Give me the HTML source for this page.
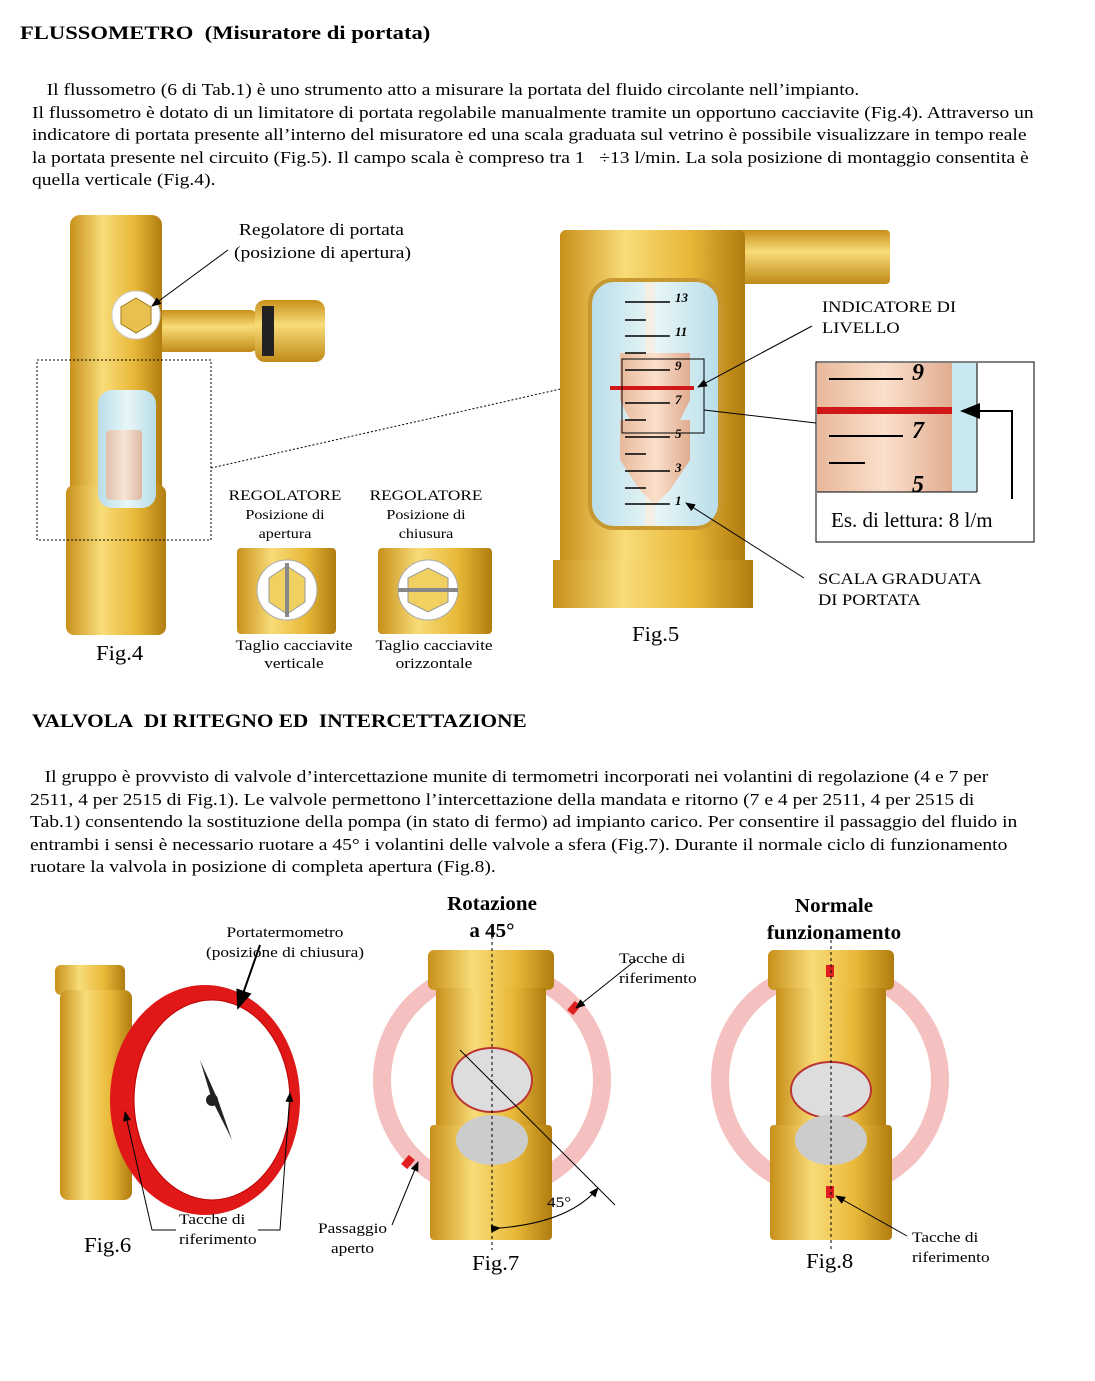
<!DOCTYPE html>
<html><head><meta charset="utf-8"><style>
body{margin:0;width:1095px;height:1381px;background:#fff;position:relative;overflow:hidden;font-family:"Liberation Serif",serif;color:#000}
.t{position:absolute;white-space:nowrap;transform:scaleX(1.15);transform-origin:0 0}
.p{font-size:17px;line-height:22.5px}
.s{font-size:15px}
.c{text-align:center;transform-origin:50% 0}
</style></head><body>
<svg width="1095" height="1381" style="position:absolute;left:0;top:0">
<defs>
<linearGradient id="br" x1="0" x2="1"><stop offset="0" stop-color="#c8901a"/><stop offset=".35" stop-color="#f8dc78"/><stop offset=".7" stop-color="#e8b838"/><stop offset="1" stop-color="#b07c10"/></linearGradient>
<linearGradient id="brv" y1="0" y2="1" x1="0" x2="0"><stop offset="0" stop-color="#c8901a"/><stop offset=".4" stop-color="#f8dc78"/><stop offset="1" stop-color="#c08a18"/></linearGradient>
<linearGradient id="gl" x1="0" x2="1"><stop offset="0" stop-color="#b8dde8"/><stop offset=".5" stop-color="#e8f6f8"/><stop offset="1" stop-color="#b8dde8"/></linearGradient>
<linearGradient id="fl" x1="0" x2="1"><stop offset="0" stop-color="#e8b89a"/><stop offset=".5" stop-color="#fbe0cc"/><stop offset="1" stop-color="#e0ac90"/></linearGradient>
<marker id="ar" markerWidth="10" markerHeight="8" refX="9" refY="4" orient="auto"><path d="M0,0L10,4L0,8z"/></marker>
</defs>
<!-- Fig4 -->
<rect x="148" y="310" width="110" height="42" rx="8" fill="url(#brv)"/>
<rect x="255" y="300" width="70" height="62" rx="10" fill="url(#brv)"/>
<rect x="262" y="306" width="12" height="50" fill="#222"/>
<rect x="70" y="215" width="92" height="420" rx="10" fill="url(#br)"/>
<rect x="66" y="485" width="100" height="150" rx="8" fill="url(#br)"/>
<circle cx="136" cy="315" r="24" fill="#fff" stroke="#ccc"/>
<polygon points="136,298 151,307 151,324 136,333 121,324 121,307" fill="#e8c050" stroke="#a07818"/>
<rect x="98" y="390" width="58" height="118" rx="14" fill="url(#gl)"/>
<rect x="106" y="430" width="36" height="70" rx="4" fill="url(#fl)" opacity=".8"/>
<rect x="37" y="360" width="174" height="180" fill="none" stroke="#000" stroke-dasharray="2,2"/>
<line x1="211" y1="468" x2="565" y2="388" stroke="#000" stroke-dasharray="2,2"/>
<line x1="228" y1="250" x2="152" y2="306" stroke="#000" marker-end="url(#ar)"/>
<!-- small regulators -->
<rect x="237" y="548" width="99" height="86" rx="4" fill="url(#br)"/>
<circle cx="287" cy="590" r="30" fill="#fff" stroke="#aaa"/>
<polygon points="287,566 305,578 305,602 287,614 269,602 269,578" fill="#f0d060" stroke="#999"/>
<rect x="285" y="563" width="4" height="54" fill="#888"/>
<rect x="378" y="548" width="114" height="86" rx="4" fill="url(#br)"/>
<circle cx="428" cy="590" r="30" fill="#fff" stroke="#aaa"/>
<polygon points="428,568 448,578 448,602 428,612 408,602 408,578" fill="#f0d060" stroke="#999"/>
<rect x="398" y="588" width="60" height="4" fill="#888"/>
<!-- Fig5 -->
<rect x="700" y="230" width="190" height="54" rx="4" fill="url(#brv)"/>
<rect x="560" y="230" width="185" height="378" rx="6" fill="url(#br)"/>
<rect x="553" y="560" width="200" height="48" fill="url(#br)"/>
<rect x="590" y="280" width="130" height="248" rx="24" fill="url(#gl)" stroke="#c89830" stroke-width="4"/>
<rect x="645" y="282" width="10" height="244" fill="#f4efe4"/>
<path d="M620,353 H690 V400 L680,420 H690 V460 L670,490 L655,505 L640,490 L620,460 V420 L630,420 L620,400z" fill="url(#fl)"/>
<g stroke="#000" stroke-width="1.5">
<line x1="625" y1="302" x2="670" y2="302"/><line x1="625" y1="320" x2="646" y2="320"/>
<line x1="625" y1="336" x2="670" y2="336"/><line x1="625" y1="353" x2="646" y2="353"/>
<line x1="625" y1="370" x2="670" y2="370"/><line x1="625" y1="387" x2="646" y2="387"/>
<line x1="625" y1="403" x2="670" y2="403"/><line x1="625" y1="420" x2="646" y2="420"/>
<line x1="625" y1="437" x2="670" y2="437"/><line x1="625" y1="454" x2="646" y2="454"/>
<line x1="625" y1="471" x2="670" y2="471"/><line x1="625" y1="488" x2="646" y2="488"/>
<line x1="625" y1="504" x2="670" y2="504"/></g>
<g font-family="Liberation Serif" font-style="italic" font-weight="bold" font-size="13">
<text x="675" y="302">13</text><text x="675" y="336">11</text><text x="675" y="370">9</text><text x="675" y="404">7</text><text x="675" y="438">5</text><text x="675" y="472">3</text><text x="675" y="505">1</text></g>
<rect x="610" y="386" width="84" height="4" fill="#d01818"/>
<rect x="622" y="359" width="82" height="74" fill="none" stroke="#000"/>
<line x1="812" y1="326" x2="698" y2="387" stroke="#000" marker-end="url(#ar)"/>
<line x1="704" y1="410" x2="816" y2="423" stroke="#000"/>
<line x1="804" y1="578" x2="686" y2="503" stroke="#000" marker-end="url(#ar)"/>
<rect x="816" y="362" width="218" height="180" fill="#fff" stroke="#000"/>
<rect x="817" y="363" width="160" height="129" fill="#c8e8f0"/>
<rect x="817" y="363" width="135" height="129" fill="url(#fl)"/>
<g stroke="#000" stroke-width="2"><line x1="829" y1="379" x2="903" y2="379"/><line x1="829" y1="408" x2="865" y2="408"/><line x1="829" y1="436" x2="903" y2="436"/><line x1="829" y1="463" x2="865" y2="463"/></g>
<g font-family="Liberation Serif" font-style="italic" font-weight="bold" font-size="24"><text x="912" y="380">9</text><text x="912" y="438">7</text><text x="912" y="492">5</text></g>
<rect x="817" y="407" width="135" height="7" fill="#d01818"/>
<line x1="977" y1="363" x2="977" y2="492" stroke="#000"/><line x1="817" y1="492" x2="977" y2="492" stroke="#000"/>
<polyline points="1012,499 1012,411 962,411" fill="none" stroke="#000" stroke-width="2" marker-end="url(#ar)"/>
<!-- Fig6 -->
<rect x="55" y="965" width="70" height="30" rx="6" fill="url(#br)"/>
<rect x="60" y="990" width="72" height="210" rx="8" fill="url(#br)"/>
<ellipse cx="205" cy="1100" rx="95" ry="115" fill="#e01818"/>
<ellipse cx="212" cy="1100" rx="78" ry="100" fill="#fff" stroke="#b00"/>
<path d="M200,1060 L212,1100 L232,1140 L218,1100z" fill="#222"/>
<circle cx="212" cy="1100" r="6" fill="#222"/>
<line x1="260" y1="945" x2="238" y2="1008" stroke="#000" stroke-width="2" marker-end="url(#ar)"/>
<polyline points="152,1230 176,1230" fill="none" stroke="#000"/>
<polyline points="152,1230 125,1112" fill="none" stroke="#000" marker-end="url(#ar)"/>
<polyline points="258,1230 280,1230 290,1093" fill="none" stroke="#000" marker-end="url(#ar)"/>
<!-- Fig7 -->
<circle cx="492" cy="1080" r="110" fill="none" stroke="#f4c0c0" stroke-width="18"/>
<rect x="428" y="950" width="126" height="40" rx="6" fill="url(#br)"/>
<rect x="436" y="988" width="110" height="140" fill="url(#br)"/>
<rect x="430" y="1125" width="122" height="115" rx="4" fill="url(#br)"/>
<ellipse cx="492" cy="1080" rx="40" ry="32" fill="#ddd" stroke="#b33" stroke-width="2"/>
<ellipse cx="492" cy="1140" rx="36" ry="25" fill="#ccc"/>
<rect x="570" y="1002" width="8" height="12" fill="#e02020" transform="rotate(40 574 1008)"/>
<rect x="404" y="1156" width="8" height="12" fill="#e02020" transform="rotate(40 408 1162)"/>
<line x1="492" y1="930" x2="492" y2="1250" stroke="#000" stroke-dasharray="3,3"/>
<line x1="460" y1="1050" x2="615" y2="1205" stroke="#000"/>
<line x1="636" y1="960" x2="576" y2="1008" stroke="#000" marker-end="url(#ar)"/>
<line x1="392" y1="1225" x2="418" y2="1162" stroke="#000" marker-end="url(#ar)"/>
<path d="M500,1228 Q570,1222 598,1188" fill="none" stroke="#000" marker-end="url(#ar)" marker-start="url(#ar)"/>
<!-- Fig8 -->
<circle cx="830" cy="1080" r="110" fill="none" stroke="#f4c0c0" stroke-width="18"/>
<rect x="768" y="950" width="126" height="40" rx="6" fill="url(#br)"/>
<rect x="776" y="988" width="110" height="140" fill="url(#br)"/>
<rect x="770" y="1125" width="122" height="115" rx="4" fill="url(#br)"/>
<ellipse cx="831" cy="1090" rx="40" ry="28" fill="#ddd" stroke="#b33" stroke-width="2"/>
<ellipse cx="831" cy="1140" rx="36" ry="25" fill="#ccc"/>
<rect x="826" y="965" width="8" height="12" fill="#e02020"/>
<rect x="826" y="1186" width="8" height="12" fill="#e02020"/>
<line x1="831" y1="940" x2="831" y2="1250" stroke="#000" stroke-dasharray="3,3"/>
<line x1="907" y1="1236" x2="836" y2="1196" stroke="#000" marker-end="url(#ar)"/>
</svg>
<div class="t" style="left:20px;top:23px;font-size:19px;font-weight:bold;transform:scaleX(1.19)">FLUSSOMETRO&nbsp; (Misuratore di portata)</div>
<div class="t p" style="left:32px;top:79px">&nbsp;&nbsp;&nbsp;Il flussometro (6 di Tab.1) è uno strumento atto a misurare la portata del fluido circolante nell’impianto.<br>Il flussometro è dotato di un limitatore di portata regolabile manualmente tramite un opportuno cacciavite (Fig.4). Attraverso un<br>indicatore di portata presente all’interno del misuratore ed una scala graduata sul vetrino è possibile visualizzare in tempo reale<br>la portata presente nel circuito (Fig.5). Il campo scala è compreso tra 1 &nbsp;&nbsp;÷13 l/min. La sola posizione di montaggio consentita è<br>quella verticale (Fig.4).</div>
<div class="t" style="left:234px;top:218px;font-size:17px;line-height:23px">&nbsp;Regolatore di portata<br>(posizione di apertura)</div>
<div class="t c s" style="left:226px;top:487px;width:118px;line-height:19px">REGOLATORE<br><span style="font-size:14px">Posizione di<br>apertura</span></div>
<div class="t c s" style="left:367px;top:487px;width:118px;line-height:19px">REGOLATORE<br><span style="font-size:14px">Posizione di<br>chiusura</span></div>
<div class="t c s" style="left:234px;top:637px;width:120px;line-height:18px">Taglio cacciavite<br>verticale</div>
<div class="t c s" style="left:374px;top:637px;width:120px;line-height:18px">Taglio cacciavite<br>orizzontale</div>
<div class="t" style="left:96px;top:641px;font-size:21px;transform:scaleX(1.08)">Fig.4</div>
<div class="t" style="left:632px;top:622px;font-size:21px;transform:scaleX(1.08)">Fig.5</div>
<div class="t" style="left:822px;top:297px;font-size:16px;line-height:21px">INDICATORE DI<br>LIVELLO</div>
<div class="t" style="left:818px;top:569px;font-size:16px;line-height:21px">SCALA GRADUATA<br>DI PORTATA</div>
<div class="t" style="left:831px;top:508px;font-size:21px;transform:scaleX(1.0)">Es. di lettura: 8 l/m</div>
<div class="t" style="left:32px;top:711px;font-size:19px;font-weight:bold;transform:scaleX(1.12)">VALVOLA&nbsp; DI RITEGNO ED&nbsp; INTERCETTAZIONE</div>
<div class="t p" style="left:30px;top:766px">&nbsp;&nbsp;&nbsp;Il gruppo è provvisto di valvole d’intercettazione munite di termometri incorporati nei volantini di regolazione (4 e 7 per<br>2511, 4 per 2515 di Fig.1). Le valvole permettono l’intercettazione della mandata e ritorno (7 e 4 per 2511, 4 per 2515 di<br>Tab.1) consentendo la sostituzione della pompa (in stato di fermo) ad impianto carico. Per consentire il passaggio del fluido in<br>entrambi i sensi è necessario ruotare a 45° i volantini delle valvole a sfera (Fig.7). Durante il normale ciclo di funzionamento<br>ruotare la valvola in posizione di completa apertura (Fig.8).</div>
<div class="t c" style="left:420px;top:891px;width:144px;font-size:20px;font-weight:bold;line-height:27px;transform:scaleX(1.05)">Rotazione<br>a 45°</div>
<div class="t c" style="left:750px;top:893px;width:168px;font-size:20px;font-weight:bold;line-height:27px;transform:scaleX(1.05)">Normale<br>funzionamento</div>
<div class="t c s" style="left:195px;top:923px;width:180px;line-height:20px">Portatermometro<br>(posizione di chiusura)</div>
<div class="t s" style="left:619px;top:949px;line-height:20px">Tacche di<br>riferimento</div>
<div class="t s" style="left:179px;top:1210px;line-height:20px">Tacche di<br>riferimento</div>
<div class="t c s" style="left:310px;top:1219px;width:85px;line-height:20px">Passaggio<br>aperto</div>
<div class="t s" style="left:547px;top:1195px">45°</div>
<div class="t s" style="left:912px;top:1228px;line-height:20px">Tacche di<br>riferimento</div>
<div class="t" style="left:84px;top:1233px;font-size:21px;transform:scaleX(1.08)">Fig.6</div>
<div class="t" style="left:472px;top:1251px;font-size:21px;transform:scaleX(1.08)">Fig.7</div>
<div class="t" style="left:806px;top:1249px;font-size:21px;transform:scaleX(1.08)">Fig.8</div>
</body></html>
